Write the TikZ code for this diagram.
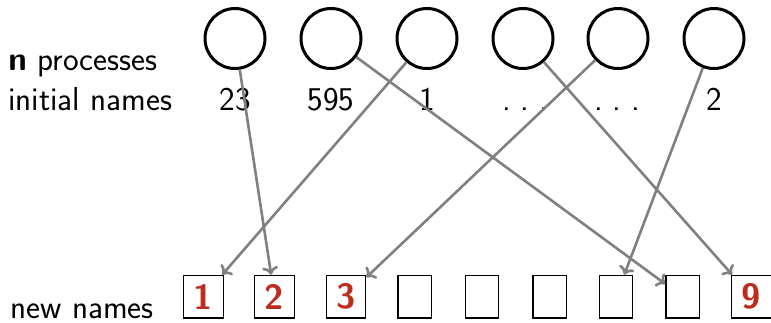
\documentclass[tikz,border=0pt]{standalone}
\usetikzlibrary{arrows.meta}
\definecolor{alertred}{RGB}{188,45,30}
\definecolor{arrowgray}{RGB}{128,128,128}
\newcommand{\spdots}{.\kern0.3em.\kern0.3em.}
\begin{document}
\begin{tikzpicture}[x=0.5pt,y=-0.5pt,
  every node/.style={font=\sffamily\fontsize{16.6}{19}\selectfont},
  proc/.style={circle,draw=black,line width=1.5pt,minimum size=30pt,inner sep=0pt},
  lbl/.style={inner sep=0pt,anchor=base},
  side/.style={inner sep=0pt,anchor=base west},
  slot/.style={draw=black,line width=0.6pt,minimum height=21.3pt,minimum width=16.6pt,inner sep=0pt},
  named/.style={slot,minimum width=19.8pt,text=alertred,font=\sffamily\bfseries\fontsize{17.5}{19}\selectfont},
  arr/.style={draw=arrowgray,line width=1.3pt,-{To[length=4pt,width=8pt]}}]
\useasboundingbox (0,0) rectangle (771,322);
% processes
\node[proc] (c1) at (235,38.5) {};
\node[proc] (c2) at (331,38.5) {};
\node[proc] (c3) at (427,38.5) {};
\node[proc] (c4) at (523,38.5) {};
\node[proc] (c5) at (618,38.5) {};
\node[proc] (c6) at (714,38.5) {};
% initial names
\node[lbl] (l1) at (235,110) {23};
\node[lbl] (l2) at (331,110) {595};
\node[lbl] (l3) at (427,110) {1};
\node[lbl] (l4) at (525,110) {\spdots};
\node[lbl] (l5) at (617,110) {\spdots};
\node[lbl] (l6) at (714,110) {2};
% side labels
\node[side] (tp) at (8,70) {\textbf{n} processes};
\node[side] (ti) at (8,110) {initial names};
\node[side] (tn) at (10,318) {new names};
% new names
\node[named] (b1) at (203.3,296.6) {1};
\node[named] (b2) at (274.5,296.6) {2};
\node[named] (b3) at (346,296.6) {3};
\node[slot] (b4) at (414.5,296.6) {};
\node[slot] (b5) at (482,296.6) {};
\node[slot] (b6) at (549.5,296.6) {};
\node[slot] (b7) at (616,296.6) {};
\node[slot] (b8) at (682.5,296.6) {};
\node[named] (b9) at (751.5,296.6) {9};
% mapping
\draw[arr] (c1) -- (b2);
\draw[arr] (c2) -- (b8);
\draw[arr] (c3) -- (b1);
\draw[arr] (c4) -- (b9);
\draw[arr] (c5) -- (b3);
\draw[arr] (c6) -- (b7);
\end{tikzpicture}
\end{document}
